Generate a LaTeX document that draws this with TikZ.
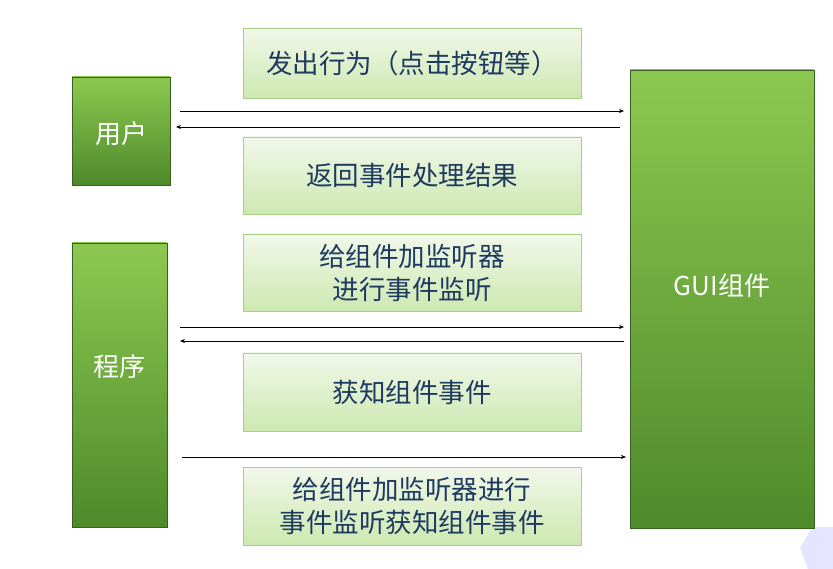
\documentclass[tikz,border=0pt]{standalone}
\usepackage{fontspec}
\setmainfont{Noto Sans CJK SC}
\usetikzlibrary{arrows.meta}
\definecolor{dg}{HTML}{4F8A2B}
\definecolor{lg}{HTML}{8CC850}
\definecolor{pl}{HTML}{F1F8EA}
\definecolor{pd}{HTML}{CDE8B0}
\definecolor{pb}{HTML}{A9CF8A}
\definecolor{tx}{HTML}{1F3A60}
\begin{document}
\begin{tikzpicture}[x=1pt,y=-1pt,
 gbox/.style={draw=dg!70!black,line width=0.4pt,top color=lg,bottom color=dg},
 glab/.style={text=white,font=\fontsize{26}{30}\selectfont},
 pbox/.style={draw=pb,line width=0.6pt,top color=pl,bottom color=pd,text=tx,font=\fontsize{26.5}{33}\selectfont,align=center},
 arr/.style={-{Stealth[length=5pt,width=4pt]},line width=0.6pt}]
\useasboundingbox (0,0) rectangle (833,569);
\fill[blue!10] (833,527) -- (812,527) -- (800,548) -- (808,569) -- (833,569) -- cycle;
\node[gbox,minimum width=98,minimum height=108] (user) at (121,131) {};
\node[glab] at (121,134) {用户};
\node[gbox,minimum width=95,minimum height=284] (prog) at (119.5,385) {};
\node[glab] at (119.5,367) {程序};
\node[gbox,minimum width=184,minimum height=458] (gui) at (722,299) {};
\node[glab] at (722,286) {GUI组件};
\node[pbox,minimum width=338,minimum height=70] (b1) at (412,63) {发出行为（点击按钮等）};
\node[pbox,minimum width=338,minimum height=77] (b2) at (412,175.5) {返回事件处理结果};
\node[pbox,minimum width=338,minimum height=77] (b3) at (412,272.5) {给组件加监听器\\进行事件监听};
\node[pbox,minimum width=338,minimum height=78] (b4) at (412,392) {获知组件事件};
\node[pbox,minimum width=338,minimum height=78] (b5) at (412,506) {给组件加监听器进行\\事件监听获知组件事件};
\coordinate (a1s) at (180,111); \coordinate (a1e) at (624,111);
\coordinate (a2s) at (620,127); \coordinate (a2e) at (176,127);
\coordinate (a3s) at (180,327); \coordinate (a3e) at (624,327);
\coordinate (a4s) at (624,341); \coordinate (a4e) at (180,341);
\coordinate (a5s) at (182,457); \coordinate (a5e) at (626,457);
\draw[arr] (a1s) -- (a1e);
\draw[arr] (a2s) -- (a2e);
\draw[arr] (a3s) -- (a3e);
\draw[arr] (a4s) -- (a4e);
\draw[arr] (a5s) -- (a5e);
\end{tikzpicture}
\end{document}
